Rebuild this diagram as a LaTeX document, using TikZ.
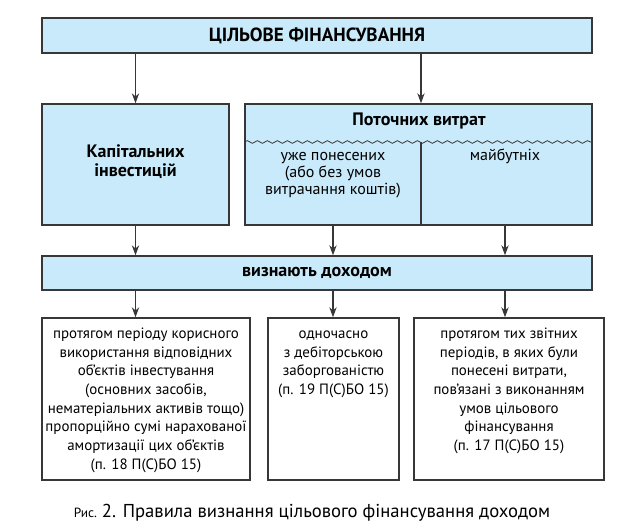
\documentclass[tikz,border=0pt]{standalone}
\usepackage{fontspec}
\setmainfont{PT Sans}
\usetikzlibrary{arrows.meta,decorations.pathmorphing}
\definecolor{lichtblauw}{RGB}{201,234,250}
\definecolor{rand}{RGB}{55,55,55}
\tikzset{
  blok/.style={draw=rand, line width=1.1pt, fill=lichtblauw, inner sep=0pt},
  wit/.style={draw=rand, line width=1.1pt, fill=white, inner sep=0pt},
  pijl/.style={draw=rand, line width=0.85pt, -{Stealth[length=7.5pt,width=5.5pt]}},
  kop/.style={font=\fontsize{13.5}{13.8}\selectfont\bfseries, align=center},
  tekst/.style={font=\fontsize{12}{12.75}\selectfont, align=center, anchor=north, inner sep=0pt},
  klein/.style={font=\fontsize{11.2}{14}\selectfont, align=center, anchor=north, inner sep=0pt}
}
\begin{document}
\begin{tikzpicture}[x=0.75pt, y=-0.75pt]
\useasboundingbox (0,0) rectangle (640,532);
% bovenste rij
\node[blok, minimum width=412.5pt, minimum height=26.25pt, kop, font=\fontsize{14.3}{15}\selectfont\bfseries] (doel) at (317,35.5) {ЦІЛЬОВЕ ФІНАНСУВАННЯ};
\node[blok, minimum width=140.25pt, minimum height=90.75pt, kop] (kap) at (135.5,164.5) {};
\node[kop] (kaptitel) at (135.5,161.5) {Капітальних\\інвестицій};
\node[blok, minimum width=260.25pt, minimum height=90.75pt] (pot) at (418.5,164.5) {};
\node[kop] (pottitel) at (419,121) {Поточних витрат};
\coordinate (golf) at (421,142);
\draw[rand, line width=0.6pt, decorate, decoration={snake, segment length=7.5pt, amplitude=1pt}] (pot.west |- golf) -- (pot.east |- golf);
\draw[rand, line width=1.1pt] (golf) -- (golf |- pot.south);
\node[tekst] (reeds) at (333,148.5) {\strut уже понесених\\(або без умов\\витрачання коштів)};
\node[tekst] (later) at (505,148.5) {\strut майбутніх};
% midden
\node[blok, minimum width=412.5pt, minimum height=25.5pt, kop] (baten) at (317,273) {визнають доходом};
% onderste rij
\node[wit, minimum width=156pt, minimum height=121.5pt] (b1) at (146,399) {};
\node[wit, minimum width=98.25pt, minimum height=121.5pt] (b2) at (333.5,399) {};
\node[wit, minimum width=142.5pt, minimum height=121.5pt] (b3) at (509,399) {};
\node[klein] (t1) at (146,325) {\strut протягом періоду корисного\\використання відповідних\\об’єктів інвестування\\(основних засобів,\\нематеріальних активів тощо)\\пропорційно сумі нарахованої\\амортизації цих об’єктів\\(п. 18 П(С)БО 15)};
\node[klein] (t2) at (333.5,325) {\strut одночасно\\з дебіторською\\заборгованістю\\(п. 19 П(С)БО 15)};
\node[klein] (t3) at (509,325) {\strut протягом тих звітних\\періодів, в яких були\\понесені витрати,\\пов’язані з виконанням\\умов цільового\\фінансування\\(п. 17 П(С)БО 15)};
% pijlen
\draw[pijl] (doel.south -| kap.north) -- (kap.north);
\draw[pijl] (doel.south -| golf) -- (pot.north -| golf);
\draw[pijl] (kap.south) -- (baten.north -| kap.south);
\draw[pijl] (pot.south -| reeds) -- (baten.north -| reeds);
\draw[pijl] (pot.south -| later) -- (baten.north -| later);
\draw[pijl] (baten.south -| kap.south) -- (b1.north -| kap.south);
\draw[pijl] (baten.south -| reeds) -- (b2.north -| reeds);
\draw[pijl] (baten.south -| later) -- (b3.north -| later);
% onderschrift
\node[font=\fontsize{14}{16}\selectfont] (bijschrift) at (312,513) {{\fontsize{10}{11}\selectfont Рис.}\ 2. Правила визнання цільового фінансування доходом};
\end{tikzpicture}
\end{document}
